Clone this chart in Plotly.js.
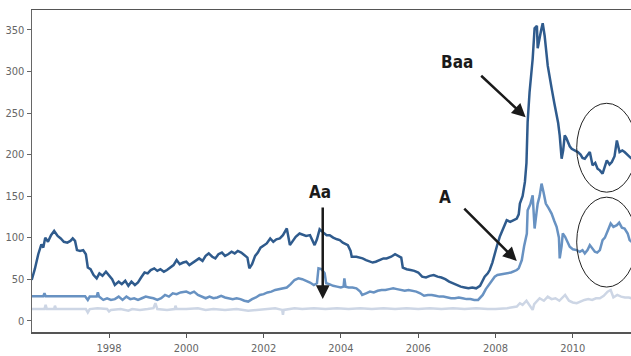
<!DOCTYPE html>
<html>
<head>
<meta charset="utf-8">
<script src="https://cdn.plot.ly/plotly-3.0.1.min.js"></script>
<style>html,body{margin:0;padding:0;background:#fff}#chart{width:631px;height:356px}</style>
</head>
<body>
<div id="chart"></div>
<script>
// Decimal-year time stamps and spread values (basis points) per rating class
const baaT = [1996.00,1996.08,1996.17,1996.25,1996.30,1996.35,1996.42,1996.50,1996.58,1996.67,1996.75,1996.83,1996.92,1997.00,1997.06,1997.12,1997.17,1997.25,1997.33,1997.40,1997.45,1997.52,1997.60,1997.68,1997.75,1997.83,1997.92,1998.00,1998.08,1998.15,1998.25,1998.33,1998.42,1998.50,1998.58,1998.67,1998.75,1998.83,1998.92,1999.00,1999.08,1999.17,1999.25,1999.33,1999.42,1999.50,1999.58,1999.67,1999.75,1999.83,1999.92,2000.00,2000.08,2000.17,2000.25,2000.33,2000.42,2000.50,2000.58,2000.67,2000.75,2000.83,2000.92,2001.00,2001.08,2001.17,2001.25,2001.33,2001.42,2001.50,2001.58,2001.63,2001.70,2001.78,2001.85,2001.92,2002.00,2002.08,2002.17,2002.25,2002.33,2002.42,2002.50,2002.60,2002.68,2002.75,2002.83,2002.93,2003.00,2003.10,2003.20,2003.27,2003.32,2003.38,2003.45,2003.55,2003.63,2003.71,2003.80,2003.90,2003.97,2004.05,2004.12,2004.18,2004.25,2004.28,2004.40,2004.50,2004.56,2004.65,2004.73,2004.82,2004.90,2005.00,2005.10,2005.18,2005.30,2005.40,2005.48,2005.56,2005.60,2005.70,2005.80,2005.90,2006.00,2006.04,2006.10,2006.20,2006.30,2006.40,2006.50,2006.60,2006.70,2006.80,2006.90,2007.00,2007.10,2007.20,2007.30,2007.40,2007.50,2007.60,2007.67,2007.72,2007.80,2007.85,2007.92,2007.98,2008.05,2008.11,2008.20,2008.29,2008.38,2008.47,2008.55,2008.60,2008.63,2008.70,2008.76,2008.80,2008.83,2008.88,2008.96,2009.01,2009.07,2009.09,2009.14,2009.18,2009.22,2009.27,2009.35,2009.40,2009.45,2009.52,2009.58,2009.62,2009.66,2009.71,2009.75,2009.79,2009.83,2009.87,2009.92,2009.97,2010.05,2010.13,2010.20,2010.25,2010.31,2010.38,2010.44,2010.51,2010.58,2010.64,2010.70,2010.77,2010.82,2010.88,2010.95,2011.01,2011.08,2011.14,2011.21,2011.28,2011.34,2011.40,2011.47,2011.52];
const baaV = [49,62,80,92,88,100,95,103,108,102,99,95,94,96,99,96,85,84,85,80,64,62,55,51,57,54,59,55,50,43,47,44,48,42,47,43,46,52,58,57,61,63,60,62,59,61,64,67,73,68,70,71,67,70,73,75,72,78,81,77,75,80,82,78,80,83,81,84,82,79,76,63,68,78,82,88,90,93,99,95,98,99,103,111,91,96,101,105,104,102,103,96,91,98,110,106,103,103,100,98,97,94,92,91,84,77,77,76,75,73,72,70,71,73,75,75,77,80,78,76,64,62,61,60,58,56,53,52,54,55,53,52,50,47,45,43,41,40,39,40,39,42,48,53,57,61,70,81,92,101,112,121,119,121,123,128,141,150,167,190,239,275,315,352,355,328,343,350,358,343,307,292,280,262,247,238,223,195,205,223,220,215,210,207,205,203,200,196,195,200,203,187,190,183,181,177,185,193,188,191,198,217,203,205,203,200,197,195];

const aT = [1996.00,1996.30,1996.33,1996.36,1997.38,1997.45,1997.50,1997.68,1997.71,1997.74,1997.85,1997.95,1998.05,1998.15,1998.25,1998.35,1998.45,1998.55,1998.65,1998.75,1998.85,1998.95,1999.05,1999.15,1999.25,1999.35,1999.45,1999.55,1999.65,1999.75,1999.85,2000.00,2000.10,2000.20,2000.30,2000.40,2000.50,2000.60,2000.70,2000.80,2000.90,2001.00,2001.10,2001.20,2001.30,2001.40,2001.50,2001.60,2001.70,2001.80,2001.90,2002.00,2002.10,2002.20,2002.30,2002.40,2002.50,2002.60,2002.70,2002.80,2002.90,2003.00,2003.10,2003.20,2003.30,2003.38,2003.42,2003.50,2003.58,2003.62,2003.70,2003.80,2003.90,2004.00,2004.07,2004.09,2004.12,2004.20,2004.30,2004.40,2004.50,2004.55,2004.65,2004.75,2004.85,2004.95,2005.05,2005.15,2005.25,2005.35,2005.45,2005.55,2005.65,2005.75,2005.85,2005.95,2006.05,2006.15,2006.25,2006.35,2006.45,2006.55,2006.65,2006.75,2006.85,2006.95,2007.05,2007.15,2007.25,2007.35,2007.45,2007.55,2007.62,2007.67,2007.75,2007.80,2007.90,2007.98,2008.05,2008.15,2008.29,2008.40,2008.50,2008.55,2008.60,2008.63,2008.68,2008.74,2008.81,2008.83,2008.90,2008.96,2009.01,2009.06,2009.09,2009.14,2009.19,2009.24,2009.30,2009.38,2009.45,2009.52,2009.58,2009.64,2009.66,2009.71,2009.74,2009.80,2009.87,2009.92,2010.00,2010.10,2010.18,2010.25,2010.31,2010.38,2010.44,2010.50,2010.57,2010.63,2010.70,2010.77,2010.83,2010.92,2010.98,2011.05,2011.14,2011.20,2011.27,2011.34,2011.42,2011.47,2011.52];
const aV = [29.5,29.5,33,29.5,29.5,25,29,29,34,29,25,27,25,26,29,25,29,26,27,25,27,29,28,27,25,27,31,29,33,32,34,35,33,35,31,29,27,29,27,28,30,28,27,26,27,26,24,23,26,28,31,32,34,35,37,38,39,40,44,49,51,50,48,46,43,45,63,62,57,45,44,42,41,40,41,51,41,40,40,39,35,31,33,35,34,36,37,37,38,39,38,37,36,37,36,35,33,30,31,31,30,29,29,28,27,27,28,27,26,26,25,25,28,31,38,41,47,53,55,56,57,58,60,61,63,67,73,90,105,133,140,151,111,130,141,150,165,155,141,135,129,120,113,100,75,90,105,101,95,89,86,85,83,85,81,85,91,87,83,82,85,97,100,110,117,113,115,118,112,111,105,97,95];

const aaT = [1996.00,1996.20,1996.33,1996.36,1996.39,1996.58,1996.60,1996.63,1997.00,1997.40,1997.45,1997.50,1997.70,1997.95,1998.00,1998.05,1998.30,1998.50,1998.60,1998.80,1999.00,1999.15,1999.20,1999.25,1999.50,1999.70,1999.72,1999.75,2000.00,2000.30,2000.50,2000.70,2001.00,2001.30,2001.60,2001.80,2002.00,2002.30,2002.48,2002.50,2002.52,2002.80,2003.00,2003.30,2003.60,2003.90,2004.20,2004.50,2004.80,2005.10,2005.40,2005.70,2006.00,2006.30,2006.60,2006.90,2007.20,2007.50,2007.80,2008.00,2008.30,2008.55,2008.63,2008.70,2008.80,2008.96,2009.00,2009.14,2009.25,2009.35,2009.45,2009.55,2009.65,2009.74,2009.80,2009.90,2010.00,2010.10,2010.20,2010.30,2010.40,2010.50,2010.60,2010.70,2010.80,2010.90,2010.98,2011.05,2011.15,2011.25,2011.35,2011.45,2011.52];
const aaV = [14,14,14,19,14,14,18,14,14,14,10,14,15,14,11,13,14,12,14,13,14,15,21,14,13,14,18,14,14,15,13,14,13,14,12,13,14,15,13,7,13,15,14,15,14,15,14,15,14,15,14,15,14,15,14,15,14,15,14,14,15,17,21,19,24,13,20,27,24,29,26,27,24,29,31,24,22,21,23,25,26,25,27,27,30,35,37,28,31,29,28,28,27];

const yTicks = [0,50,100,150,200,250,300,350];
const seriesNames = ['Aa','A','Baa'];

function toDate(t){
  const y = Math.floor(t);
  const s = Date.UTC(y,0,1), e = Date.UTC(y+1,0,1);
  const d = new Date(s + (t - y) * (e - s));
  return d.toISOString().slice(0,19).replace('T',' ');
}

const FONT = '"Liberation Sans Narrow", "DejaVu Sans Condensed", "Arial Narrow", sans-serif';

const traces = [
  {x: aaT.map(toDate), y: aaV, name: seriesNames[0], mode:'lines', line:{color:'#cdd6e5', width:2.5}},
  {x: aT.map(toDate),  y: aV,  name: seriesNames[1], mode:'lines', line:{color:'#6892c2', width:2.5}},
  {x: baaT.map(toDate),y: baaV,name: seriesNames[2], mode:'lines', line:{color:'#2f5b8d', width:2.5}}
];

const arrowStyle = {showarrow:true, arrowhead:2, arrowsize:1.1, arrowwidth:2.5, arrowcolor:'#1a1a1a', text:'', axref:'pixel', ayref:'pixel', standoff:0};
const labelStyle = {showarrow:false, font:{family:FONT, size:17, color:'#1a1a1a', weight:'bold'}};

const layout = {
  width:631, height:356,
  margin:{l:32, r:0, t:10, b:24},
  paper_bgcolor:'#fff', plot_bgcolor:'#fff',
  showlegend:false,
  xaxis:{
    type:'date',
    range:[toDate(1996.008), toDate(2011.506)],
    tick0:'1998-01-01', dtick:'M24', tickformat:'%Y',
    showgrid:false, zeroline:false,
    showline:true, linecolor:'#555', linewidth:1.5, mirror:true,
    ticks:'outside', ticklen:4, tickcolor:'#555', tickwidth:1,
    ticklabelstandoff:1,
    tickfont:{family:FONT, size:11, color:'#666'}
  },
  yaxis:{
    range:[-13.6, 374],
    tickvals:yTicks, ticktext:yTicks.map(String),
    showgrid:false, zeroline:false,
    showline:true, linecolor:'#666', linewidth:1.5, mirror:false,
    ticks:'outside', ticklen:4, tickcolor:'#666', tickwidth:1,
    tickfont:{family:FONT, size:11, color:'#666'}
  },
  shapes:[
    {type:'circle', xref:'x', yref:'y', x0:toDate(2010.10), x1:toDate(2011.65), y0:154.7, y1:261.7, line:{color:'#222', width:1}},
    {type:'circle', xref:'x', yref:'y', x0:toDate(2010.10), x1:toDate(2011.65), y0:40.5, y1:148.7, line:{color:'#222', width:1}}
  ],
  annotations:[
    Object.assign({}, arrowStyle, {x:toDate(2008.78), y:244.8, xref:'x', yref:'y', ax:-46, ay:-43}),
    Object.assign({}, arrowStyle, {x:toDate(2008.55), y:71.8, xref:'x', yref:'y', ax:-54, ay:-54}),
    Object.assign({}, arrowStyle, {x:toDate(2003.53), y:26, xref:'x', yref:'y', ax:0, ay:-93}),
    Object.assign({}, labelStyle, {x:toDate(2007.0), y:310.9, xref:'x', yref:'y', text:'Baa'}),
    Object.assign({}, labelStyle, {x:toDate(2006.69), y:148.7, xref:'x', yref:'y', text:'A'}),
    Object.assign({}, labelStyle, {x:toDate(2003.45), y:154.6, xref:'x', yref:'y', text:'Aa'})
  ]
};

Plotly.newPlot('chart', traces, layout, {displayModeBar:false, staticPlot:true});
</script>
</body>
</html>
